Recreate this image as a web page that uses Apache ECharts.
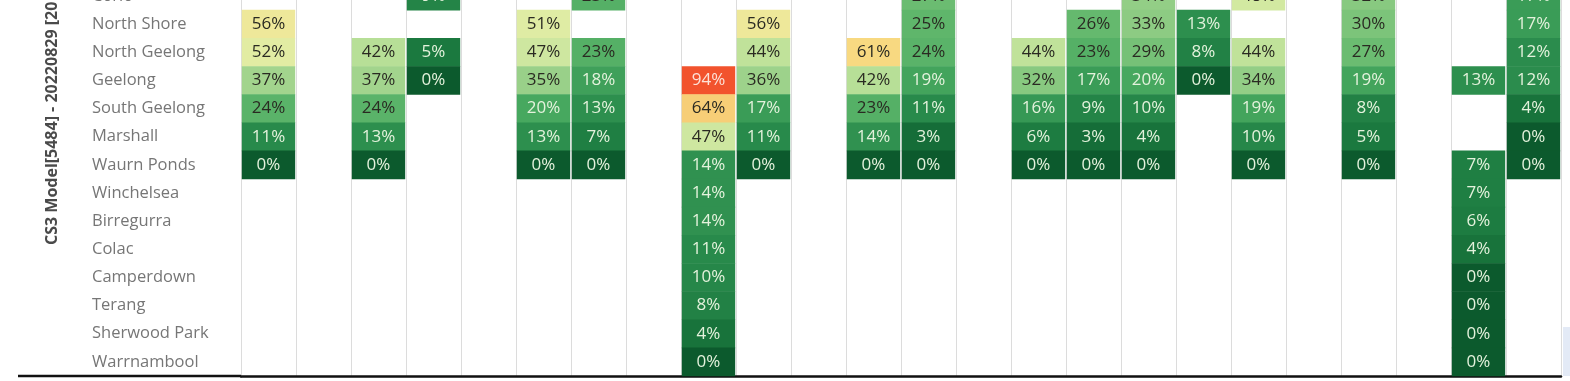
<!DOCTYPE html>
<html>
<head>
<meta charset="utf-8">
<script src="https://cdn.jsdelivr.net/npm/echarts@6/dist/echarts.min.js"></script>
<style>
html,body{margin:0;padding:0;background:#fff;overflow:hidden;width:1570px;height:381px;}
#chart{position:absolute;left:0;top:-18px;width:1570px;height:399px;}
</style>
</head>
<body>
<div id="chart"></div>
<script>
// Row (station) categories, top to bottom
const stations = ['Corio','North Shore','North Geelong','Geelong','South Geelong','Marshall','Waurn Ponds','Winchelsea','Birregurra','Colac','Camperdown','Terang','Sherwood Park','Warrnambool'];
// Column categories (headers not visible in the crop)
const columns = ['C1','C2','C3','C4','C5','C6','C7','C8','C9','C10','C11','C12','C13','C14','C15','C16','C17','C18','C19','C20','C21','C22','C23','C24'];

// Percent values per station across the 24 columns (null = empty)
const corio        = [null,null,null,9,null,null,23,null,null,null,null,null,27,null,null,null,34,null,48,null,32,null,null,17];
const northShore   = [56,null,null,null,null,51,null,null,null,56,null,null,25,null,null,26,33,13,null,null,30,null,null,17];
const northGeelong = [52,null,42,5,null,47,23,null,null,44,null,61,24,null,44,23,29,8,44,null,27,null,null,12];
const geelong      = [37,null,37,0,null,35,18,null,94,36,null,42,19,null,32,17,20,0,34,null,19,null,13,12];
const southGeelong = [24,null,24,null,null,20,13,null,64,17,null,23,11,null,16,9,10,null,19,null,8,null,null,4];
const marshall     = [11,null,13,null,null,13,7,null,47,11,null,14,3,null,6,3,4,null,10,null,5,null,null,0];
const waurnPonds   = [0,null,0,null,null,0,0,null,14,0,null,0,0,null,0,0,0,null,0,null,0,null,7,0];
const winchelsea   = [null,null,null,null,null,null,null,null,14,null,null,null,null,null,null,null,null,null,null,null,null,null,7,null];
const birregurra   = [null,null,null,null,null,null,null,null,14,null,null,null,null,null,null,null,null,null,null,null,null,null,6,null];
const colac        = [null,null,null,null,null,null,null,null,11,null,null,null,null,null,null,null,null,null,null,null,null,null,4,null];
const camperdown   = [null,null,null,null,null,null,null,null,10,null,null,null,null,null,null,null,null,null,null,null,null,null,0,null];
const terang       = [null,null,null,null,null,null,null,null,8,null,null,null,null,null,null,null,null,null,null,null,null,null,0,null];
const sherwoodPark = [null,null,null,null,null,null,null,null,4,null,null,null,null,null,null,null,null,null,null,null,null,null,0,null];
const warrnambool  = [null,null,null,null,null,null,null,null,0,null,null,null,null,null,null,null,null,null,null,null,null,null,0,null];

const rowsData = [corio,northShore,northGeelong,geelong,southGeelong,marshall,waurnPonds,winchelsea,birregurra,colac,camperdown,terang,sherwoodPark,warrnambool];

const cells = [];
rowsData.forEach((arr, r) => {
  arr.forEach((v, c) => { if (v !== null) cells.push([c, r, v]); });
});

const palette = ['#0c5a2d','#1b793f','#268749','#329452','#47a85f','#5fb66b','#7cc47a','#99d089','#afdb93','#c4e49c','#dceca5','#ecebA0','#f8dc84','#f7cb74','#f6b866','#f5a45a','#f4904e','#f37a42','#f26236','#f24f2b','#ec4226'];

const FONT = '"Open Sans", "DejaVu Sans", sans-serif';

const chart = echarts.init(document.getElementById('chart'), null, {renderer: 'canvas'});
chart.setOption({
  animation: false,
  backgroundColor: '#ffffff',
  grid: {left: 241, right: 9, top: 0, bottom: 5, containLabel: false},
  xAxis: {
    type: 'category',
    data: columns,
    position: 'bottom',
    axisLine: {show: true, lineStyle: {color: '#111111', width: 2.5}},
    axisTick: {show: false},
    axisLabel: {show: false},
    splitLine: {show: true, lineStyle: {color: '#dcdcdc', width: 1}}
  },
  yAxis: {
    type: 'category',
    data: stations,
    inverse: true,
    axisLine: {show: false},
    axisTick: {show: false},
    splitLine: {show: false},
    axisLabel: {align: 'left', margin: 149, color: '#767676', fontSize: 16.5, fontFamily: FONT}
  },
  visualMap: {
    show: false,
    type: 'continuous',
    min: 0,
    max: 100,
    dimension: 2,
    seriesIndex: 0,
    inRange: {color: palette}
  },
  series: [{
    type: 'custom',
    data: cells,
    encode: {x: 0, y: 1},
    renderItem: function (params, api) {
      const v = api.value(2);
      const p = api.coord([api.value(0), api.value(1)]);
      const s = api.size([1, 1]);
      const w = s[0] - 1.6;
      const h = s[1] + 0.6;
      let txt;
      if (v >= 85) txt = '#fde2d8';
      else if (v >= 21) txt = '#2a2a22';
      else txt = '#e4f2dc';
      return {
        type: 'rect',
        shape: {x: p[0] - w / 2, y: p[1] - s[1] / 2 - 0.3, width: w, height: h},
        style: {fill: api.visual('color')},
        textContent: {
          style: {text: v + '%', fill: txt, font: '17px ' + FONT, align: 'center', verticalAlign: 'middle'}
        },
        textConfig: {position: 'inside'}
      };
    }
  }],
  graphic: [
    {type: 'line', shape: {x1: 18, y1: 394, x2: 242, y2: 394}, style: {stroke: '#111111', lineWidth: 2.5}},
    {type: 'rect', shape: {x: 1563, y: 345, width: 7, height: 49}, style: {fill: '#e3eaf6'}},
    {
      type: 'text',
      x: 52, y: 263,
      rotation: Math.PI / 2,
      style: {text: 'CS3 Model[5484] - 20220829 [20', fill: '#4a4a4a', font: 'bold 16px ' + FONT, align: 'left', verticalAlign: 'middle'}
    }
  ]
});
</script>
</body>
</html>
